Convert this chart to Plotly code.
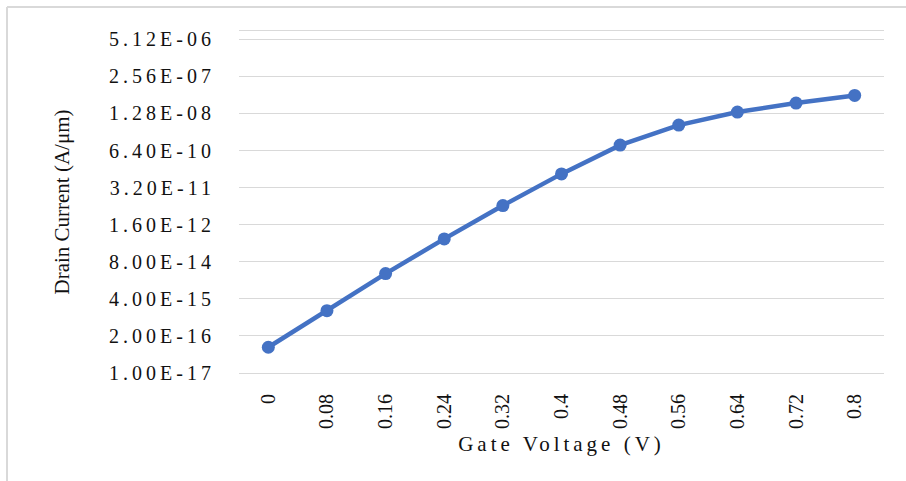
import plotly.graph_objects as go

gate_voltage = ["0", "0.08", "0.16", "0.24", "0.32", "0.4", "0.48", "0.56", "0.64", "0.72", "0.8"]
drain_current = [8.0e-17, 1.54e-15, 3.07e-14, 5.08e-13, 7.5e-12, 9.7e-11, 9.9e-10, 5.0e-9, 1.43e-8, 2.97e-8, 5.5e-8]
y_tick_vals = [1e-17, 2e-16, 4e-15, 8e-14, 1.6e-12, 3.2e-11, 6.4e-10, 1.28e-8, 2.56e-7, 5.12e-6, 1e-5]
y_tick_labels = [f"{v:.2E}" for v in y_tick_vals[:-1]] + [""]

SPREAD = '<span style="letter-spacing:4px">{}</span>'
y_tick_text = [SPREAD.format(t) if t else "" for t in y_tick_labels]

W, H = 906, 481
L, R, T, B = 239, 22, 31, 108

fig = go.Figure()
fig.add_trace(go.Scatter(
    x=gate_voltage, y=drain_current, mode="lines+markers",
    line=dict(color="#4472C4", width=4.5),
    marker=dict(color="#4472C4", size=13),
    showlegend=False,
))

font = dict(family="Liberation Serif, Times New Roman, serif", color="#111111")

fig.update_layout(
    width=W, height=H,
    margin=dict(l=L, r=R, t=T, b=B, pad=0),
    paper_bgcolor="white", plot_bgcolor="white",
    font=font,
    xaxis=dict(
        type="category", range=[-0.5, 10.5],
        showgrid=False, zeroline=False,
        showline=True, linecolor="#d9d9d9", linewidth=1.2, mirror=True,
        tickangle=-90, tickfont=dict(size=20, **font),
        ticks="outside", ticklen=12, tickcolor="rgba(0,0,0,0)",
        title=dict(text=SPREAD.format("Gate Voltage (V)"), font=dict(size=21, **font), standoff=8),
    ),
    yaxis=dict(
        type="log", range=[-17, -5],
        tickvals=y_tick_vals, ticktext=y_tick_text,
        showgrid=True, gridcolor="#d9d9d9", gridwidth=1.2,
        zeroline=False, showline=False,
        tickfont=dict(size=20, **font),
        ticks="outside", ticklen=19, tickcolor="rgba(0,0,0,0)",
        title=dict(text="Drain Current (A/μm)", font=dict(size=21, **font), standoff=33),
    ),
)

pw, ph = W - L - R, H - T - B
def px(x):
    return (x - L) / pw
def py(y):
    return (H - B - y) / ph

fig.add_shape(type="line", xref="paper", yref="paper",
              x0=px(7), x1=px(W + 5), y0=py(7), y1=py(7),
              line=dict(color="#d9d9d9", width=2))
fig.add_shape(type="line", xref="paper", yref="paper",
              x0=px(7), x1=px(7), y0=py(7), y1=py(H + 5),
              line=dict(color="#d9d9d9", width=2))

fig.write_html("out.html")
